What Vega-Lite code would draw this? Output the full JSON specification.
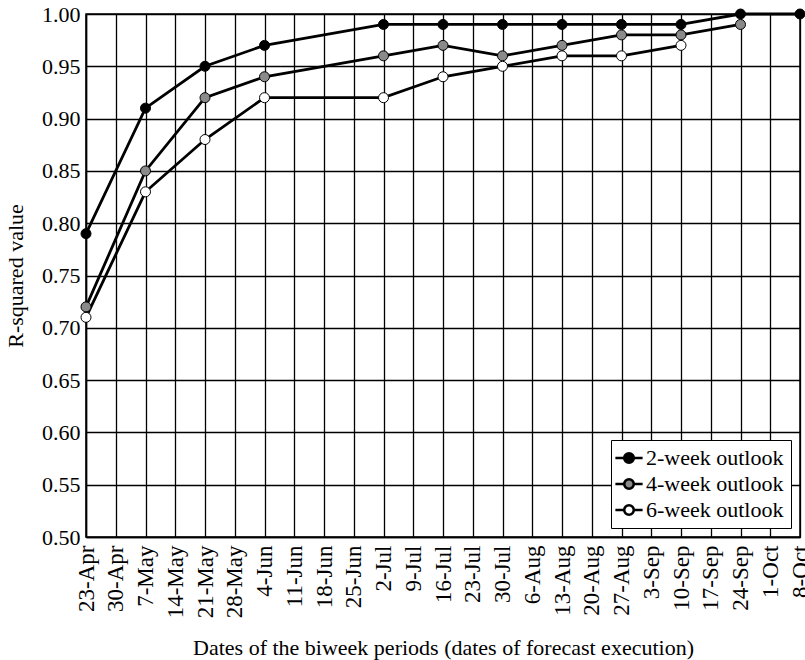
{
  "$schema": "https://vega.github.io/schema/vega-lite/v6.json",
  "width": 714,
  "height": 523,
  "autosize": {"type": "none"},
  "padding": {"left": 86, "top": 14, "right": 5, "bottom": 123},
  "background": "white",
  "config": {
    "font": "Liberation Serif",
    "view": {"stroke": "black", "strokeWidth": 1.5},
    "axis": {
      "grid": true, "gridColor": "black", "gridOpacity": 1, "gridWidth": 1.3,
      "domainColor": "black", "domainWidth": 1.5, "ticks": false,
      "labelFont": "Liberation Serif", "labelFontSize": 22, "labelColor": "black",
      "titleFont": "Liberation Serif", "titleFontSize": 22, "titleFontWeight": "normal", "titleColor": "black"
    },
    "legend": {
      "labelFont": "Liberation Serif", "labelFontSize": 22, "labelColor": "black"
    }
  },
  "data": {
    "values": [
      {"date": "23-Apr", "series": "2-week outlook", "r2": 0.79},
      {"date": "7-May", "series": "2-week outlook", "r2": 0.91},
      {"date": "21-May", "series": "2-week outlook", "r2": 0.95},
      {"date": "4-Jun", "series": "2-week outlook", "r2": 0.97},
      {"date": "2-Jul", "series": "2-week outlook", "r2": 0.99},
      {"date": "16-Jul", "series": "2-week outlook", "r2": 0.99},
      {"date": "30-Jul", "series": "2-week outlook", "r2": 0.99},
      {"date": "13-Aug", "series": "2-week outlook", "r2": 0.99},
      {"date": "27-Aug", "series": "2-week outlook", "r2": 0.99},
      {"date": "10-Sep", "series": "2-week outlook", "r2": 0.99},
      {"date": "24-Sep", "series": "2-week outlook", "r2": 1.0},
      {"date": "8-Oct", "series": "2-week outlook", "r2": 1.0},
      {"date": "23-Apr", "series": "4-week outlook", "r2": 0.72},
      {"date": "7-May", "series": "4-week outlook", "r2": 0.85},
      {"date": "21-May", "series": "4-week outlook", "r2": 0.92},
      {"date": "4-Jun", "series": "4-week outlook", "r2": 0.94},
      {"date": "2-Jul", "series": "4-week outlook", "r2": 0.96},
      {"date": "16-Jul", "series": "4-week outlook", "r2": 0.97},
      {"date": "30-Jul", "series": "4-week outlook", "r2": 0.96},
      {"date": "13-Aug", "series": "4-week outlook", "r2": 0.97},
      {"date": "27-Aug", "series": "4-week outlook", "r2": 0.98},
      {"date": "10-Sep", "series": "4-week outlook", "r2": 0.98},
      {"date": "24-Sep", "series": "4-week outlook", "r2": 0.99},
      {"date": "23-Apr", "series": "6-week outlook", "r2": 0.71},
      {"date": "7-May", "series": "6-week outlook", "r2": 0.83},
      {"date": "21-May", "series": "6-week outlook", "r2": 0.88},
      {"date": "4-Jun", "series": "6-week outlook", "r2": 0.92},
      {"date": "2-Jul", "series": "6-week outlook", "r2": 0.92},
      {"date": "16-Jul", "series": "6-week outlook", "r2": 0.94},
      {"date": "30-Jul", "series": "6-week outlook", "r2": 0.95},
      {"date": "13-Aug", "series": "6-week outlook", "r2": 0.96},
      {"date": "27-Aug", "series": "6-week outlook", "r2": 0.96},
      {"date": "10-Sep", "series": "6-week outlook", "r2": 0.97}
    ]
  },
  "encoding": {
    "x": {
      "field": "date", "type": "ordinal",
      "scale": {"type": "point", "padding": 0,
        "domain": ["23-Apr","30-Apr","7-May","14-May","21-May","28-May","4-Jun","11-Jun","18-Jun","25-Jun","2-Jul","9-Jul","16-Jul","23-Jul","30-Jul","6-Aug","13-Aug","20-Aug","27-Aug","3-Sep","10-Sep","17-Sep","24-Sep","1-Oct","8-Oct"]},
      "axis": {"title": "Dates of the biweek periods (dates of forecast execution)", "labelAngle": 270, "labelAlign": "right", "labelBaseline": "middle", "labelPadding": 8, "labelFontSize": 23, "titlePadding": 20}
    },
    "y": {
      "field": "r2", "type": "quantitative",
      "scale": {"domain": [0.5, 1.0], "nice": false, "zero": false},
      "axis": {"title": "R-squared value", "values": [0.5,0.55,0.6,0.65,0.7,0.75,0.8,0.85,0.9,0.95,1.0], "format": ".2f", "labelPadding": 6, "titleX": -59}
    }
  },
  "layer": [
    {
      "mark": {"type": "line", "color": "black", "strokeWidth": 2.8},
      "encoding": {"detail": {"field": "series"}}
    },
    {
      "mark": {"type": "point", "filled": true, "stroke": "black", "strokeWidth": 1, "size": 100, "opacity": 1},
      "encoding": {
        "fill": {
          "field": "series", "type": "nominal",
          "scale": {"domain": ["2-week outlook","4-week outlook","6-week outlook"], "range": ["black","#8a8a8a","white"]},
          "legend": {
            "title": null, "orient": "bottom-right", "offset": 9,
            "strokeColor": "black", "fillColor": "white", "padding": 7,
            "symbolType": "M-1.7,0 L-0.6,0 M0.6,0 L1.7,0 M0.6,0 A0.6,0.6 0 1 1 -0.6,0 A0.6,0.6 0 1 1 0.6,0 Z",
            "symbolSize": 256, "symbolStrokeColor": "black", "symbolStrokeWidth": 2.6, "symbolOpacity": 1,
            "rowPadding": 4, "labelOffset": 6,
            "encode": {"legend": {"update": {"width": {"value": 194}}}}
          }
        }
      }
    }
  ]
}
